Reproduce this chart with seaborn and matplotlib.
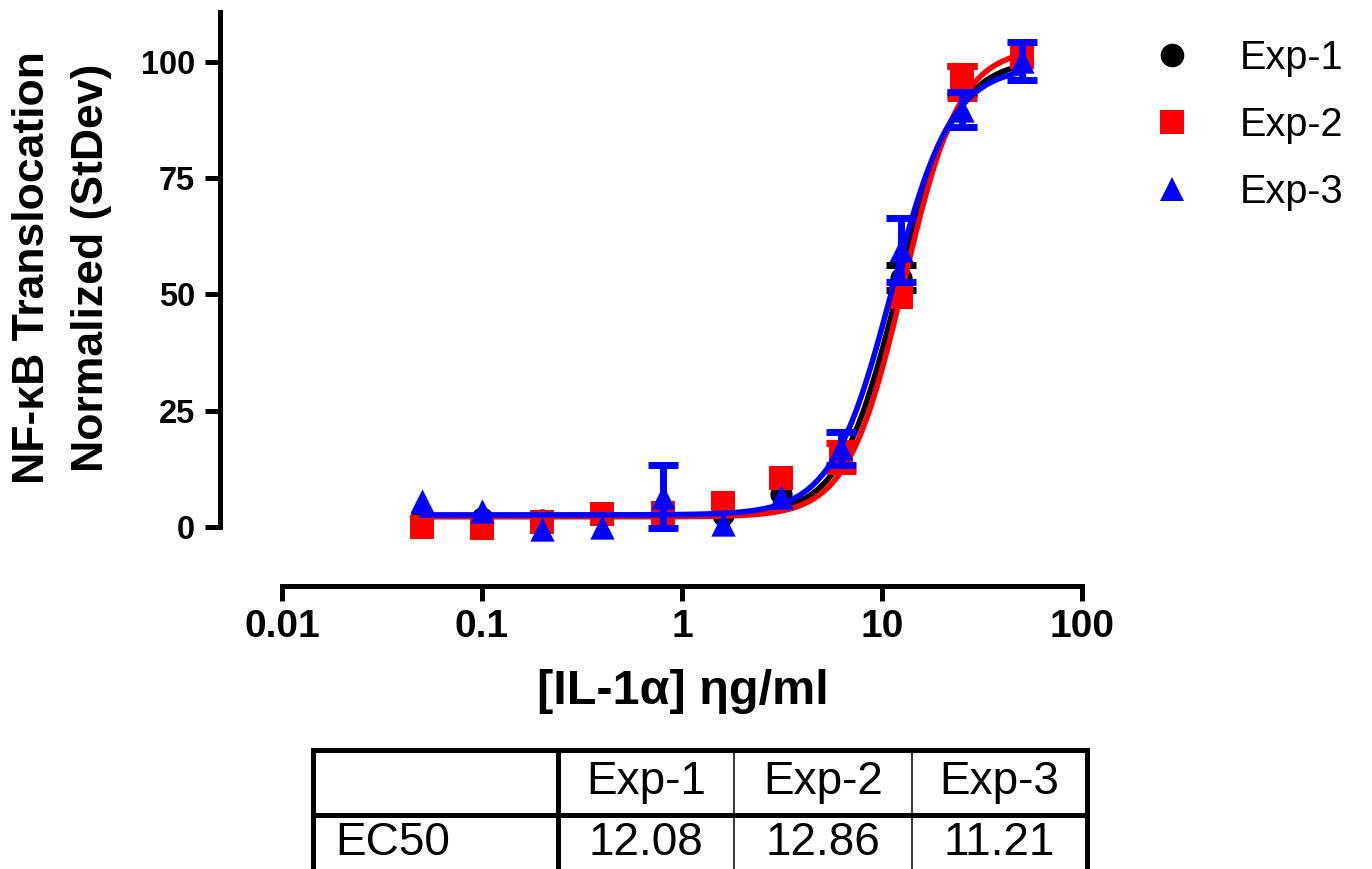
import numpy as np
import matplotlib
matplotlib.use("Agg")
import matplotlib.pyplot as plt
from matplotlib.lines import Line2D
import seaborn as sns

# IL-1alpha concentrations (ng/ml)
conc = [0.05, 0.1, 0.2, 0.4, 0.8, 1.6, 3.125, 6.25, 12.5, 25, 50]

# Normalized NF-kB translocation, mean and standard deviation per experiment
# (a zero SD means the bar is shorter than the symbol and is not drawn)
exp1_mean = [2.5, 2.0, 1.5, 2.5, 3.0, 2.5, 7.0, 16.5, 53.6, 96.0, 100.0]
exp1_sd = [0, 0, 0, 0, 0, 0, 0, 0, 2.7, 3.0, 0]
exp2_mean = [0.0, -0.3, 1.0, 2.9, 3.0, 5.2, 10.5, 15.0, 49.4, 95.7, 101.0]
exp2_sd = [0, 0, 0, 0, 0, 0, 0, 3.05, 0, 3.5, 0]
exp3_mean = [5.6, 3.5, -0.5, 0.0, 6.5, 0.6, 6.5, 16.9, 59.5, 89.7, 100.2]
exp3_sd = [0, 0, 0, 0, 6.8, 0, 0, 3.6, 6.9, 3.8, 4.1]

series_names = ["Exp-1", "Exp-2", "Exp-3"]
series_colors = ["#000000", "#FF0000", "#0000FF"]
series_markers = ["o", "s", "^"]

# Four-parameter logistic fit parameters per experiment
fit_bottom = [2.4, 2.2, 2.6]
fit_top = [100.5, 103.0, 99.0]
fit_ec50 = [12.08, 12.86, 11.21]
fit_hill = [3.0, 3.1, 2.9]

x_ticks = [0.01, 0.1, 1, 10, 100]
x_tick_labels = ["0.01", "0.1", "1", "10", "100"]
y_ticks = [0, 25, 50, 75, 100]

table_header = ["Exp-1", "Exp-2", "Exp-3"]
table_row_label = "EC50"

sns.set_style("ticks")
plt.rcParams["font.family"] = ["Liberation Sans", "DejaVu Sans"]
plt.rcParams.update({
    "text.color": "black", "axes.labelcolor": "black",
    "xtick.color": "black", "ytick.color": "black",
    "axes.edgecolor": "black",
})

W, H = 1372, 869
fig = plt.figure(figsize=(W / 100, H / 100), dpi=100)

# axes box in pixel terms
ax_left, ax_right, ax_top, ax_bottom = 220, 1082, 12, 585.5
ax = fig.add_axes([ax_left / W, 1 - ax_bottom / H,
                   (ax_right - ax_left) / W, (ax_bottom - ax_top) / H])
ax.set_xscale("log")
ax.set_xlim(10 ** (-2 - 62 / 200), 100)
ax.set_ylim(-12.57, 110.7)

means = [exp1_mean, exp2_mean, exp3_mean]
sds = [exp1_sd, exp2_sd, exp3_sd]
msizes = [16, 17.5, 17.5]

x_fit = np.logspace(np.log10(conc[0]), np.log10(conc[-1]), 400)
conc_arr = np.array(conc)
for i in range(3):
    m = np.array(means[i])
    s = np.array(sds[i])
    keep = s > 0
    ax.errorbar(conc_arr[keep], m[keep], yerr=s[keep], fmt="none",
                ecolor=series_colors[i], elinewidth=5, capsize=10.5,
                capthick=5, zorder=3 + 3 * i)
    sns.scatterplot(x=conc_arr, y=m, marker=series_markers[i],
                    color=series_colors[i], s=msizes[i] ** 2, linewidth=0,
                    ax=ax, zorder=4 + 3 * i, legend=False)
    y_fit = fit_bottom[i] + (fit_top[i] - fit_bottom[i]) / (
        1 + (fit_ec50[i] / x_fit) ** fit_hill[i])
    sns.lineplot(x=x_fit, y=y_fit, color=series_colors[i], lw=4.0, ax=ax,
                 zorder=5 + 3 * i, legend=False)

# axis styling
sns.despine(ax=ax)
ax.spines["left"].set_bounds(0, 110.7)
ax.spines["bottom"].set_bounds(0.01, 100)
for sp in ("left", "bottom"):
    ax.spines[sp].set_linewidth(3.6)
    ax.spines[sp].set_capstyle("projecting")
ax.set_xticks(x_ticks)
ax.set_xticklabels(x_tick_labels)
ax.xaxis.set_minor_locator(matplotlib.ticker.NullLocator())
ax.set_yticks(y_ticks)
ax.tick_params(axis="both", which="major", length=11, width=3.6,
               color="black", labelcolor="black", direction="out")
ax.tick_params(axis="x", labelsize=28, pad=6)
ax.tick_params(axis="y", labelsize=23.5, pad=7)
for lab in ax.get_xticklabels() + ax.get_yticklabels():
    lab.set_fontweight("bold")
ax.set_xlabel("")
ax.set_ylabel("")

fig.text(683 / W, 1 - 692 / H, "[IL-1α] ηg/ml", fontsize=35,
         fontweight="bold", ha="center", va="center")
fig.text(62 / W, 1 - 268 / H, "NF-κB Translocation\nNormalized (StDev)",
         fontsize=32, fontweight="bold", rotation=90, ha="center",
         va="center", multialignment="center", linespacing=1.55)

# legend with markers only
handles = [Line2D([], [], ls="none", marker=series_markers[i],
                  color=series_colors[i], ms=17, mew=0) for i in range(3)]
ax.legend(handles, series_names, loc="upper left",
          bbox_to_anchor=(1117 / W, 1 - 3 / H), bbox_transform=fig.transFigure,
          frameon=False, fontsize=28.5, handlelength=1.0, handletextpad=1.2,
          labelspacing=0.74, borderpad=0.4)

# EC50 summary table drawn in pixel space
tab = fig.add_axes([0, 0, 1, 1], zorder=-1)
tab.set_xlim(0, W)
tab.set_ylim(H, 0)
tab.axis("off")
t_left, t_right, t_top, t_mid, t_bot = 313, 1087, 750, 815, 900
col_edges = [558, 734, 912]
thick, thin = 3.6, 1.1
tab.plot([t_left, t_right], [t_top, t_top], color="black", lw=thick,
         solid_capstyle="projecting")
tab.plot([t_left, t_right], [t_mid, t_mid], color="black", lw=thick)
tab.plot([t_left, t_left], [t_top, t_bot], color="black", lw=thick,
         solid_capstyle="projecting")
tab.plot([t_right, t_right], [t_top, t_bot], color="black", lw=thick,
         solid_capstyle="projecting")
tab.plot([col_edges[0], col_edges[0]], [t_top, t_bot], color="black", lw=thick)
for cx in col_edges[1:]:
    tab.plot([cx, cx], [t_top, t_bot], color="black", lw=thin)
bounds = col_edges + [t_right]
for j in range(3):
    cx = (bounds[j] + bounds[j + 1]) / 2
    tab.text(cx, 782, table_header[j], fontsize=33, ha="center", va="center",
             color="black")
    tab.text(cx, 843, f"{fit_ec50[j]:.2f}", fontsize=33, ha="center",
             va="center", color="black")
tab.text(335, 843, table_row_label, fontsize=33, ha="left", va="center",
         color="black")

fig.savefig("out.png", dpi=100, facecolor="white")
